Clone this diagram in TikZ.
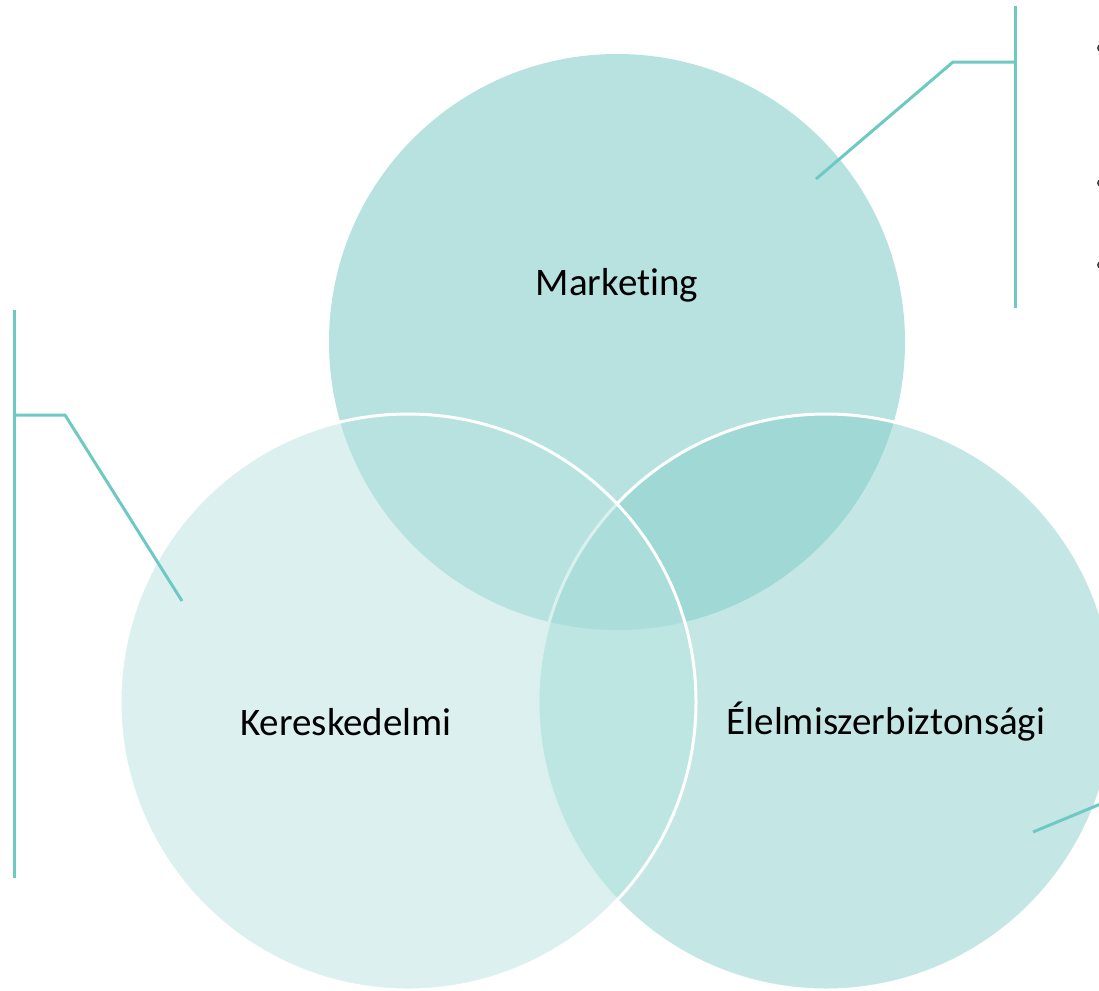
\documentclass[tikz,border=0pt]{standalone}
\usepackage{fontspec}
\setmainfont[Ligatures={NoCommon}]{Carlito}
\definecolor{topfill}{HTML}{B7E2E0}
\definecolor{rightfill}{HTML}{89D0CC}
\definecolor{leftfill}{HTML}{B7E2E0}
\definecolor{calloutcol}{HTML}{6FC9C3}
\definecolor{txt}{HTML}{000000}
\definecolor{bulletcol}{HTML}{404040}
\tikzset{
  venn/.style={circle, minimum size=576pt, inner sep=0pt, outer sep=0pt},
  vlabel/.style={font=\fontsize{39}{47}\selectfont, text=txt, inner sep=0pt},
  callout/.style={draw=calloutcol, line width=3pt},
  bul/.style={circle, fill=bulletcol, minimum size=8pt, inner sep=0pt},
}
\begin{document}
\begin{tikzpicture}[x=1pt,y=-1pt]
\useasboundingbox (0,0) rectangle (1099,990);
% circles
\node[venn, fill=topfill] (mk) at (617,342) {};
\node[venn, fill=rightfill, fill opacity=0.5, draw=white, line width=3pt, draw opacity=1] (el) at (826,702) {};
\node[venn, fill=leftfill, fill opacity=0.5, draw=white, line width=3pt, draw opacity=1] (ke) at (408,702) {};
% labels
\node[vlabel] (mklab) at (617,285) {Marketing};
\node[vlabel] (kelab) at (346,722) {Kereskedelmi};
\node[vlabel] (ellab) at (886,722) {Élelmiszerbiztonsági};
% callout top right
\coordinate (tr1) at (1015,6);
\coordinate (tr2) at (1015,308);
\coordinate (trj) at (1015,62);
\coordinate (trk) at (953,62);
\coordinate (tre) at (816,179);
\draw[callout] (tr1) -- (tr2);
\draw[callout] (trj) -- (trk) -- (tre);
% callout left
\coordinate (l1) at (14,310);
\coordinate (l2) at (14,878);
\coordinate (lj) at (14,415);
\coordinate (lk) at (65,415);
\coordinate (le) at (182,601);
\draw[callout] (l1) -- (l2);
\draw[callout] (lj) -- (lk) -- (le);
% callout bottom right
\coordinate (bre) at (1033,832);
\coordinate (brk) at (1115,798);
\draw[callout] (bre) -- (brk);
% bullets (clipped at page edge)
\node[bul] (b1) at (1101,48) {};
\node[bul] (b2) at (1101,183) {};
\node[bul] (b3) at (1101,265) {};
\end{tikzpicture}
\end{document}
